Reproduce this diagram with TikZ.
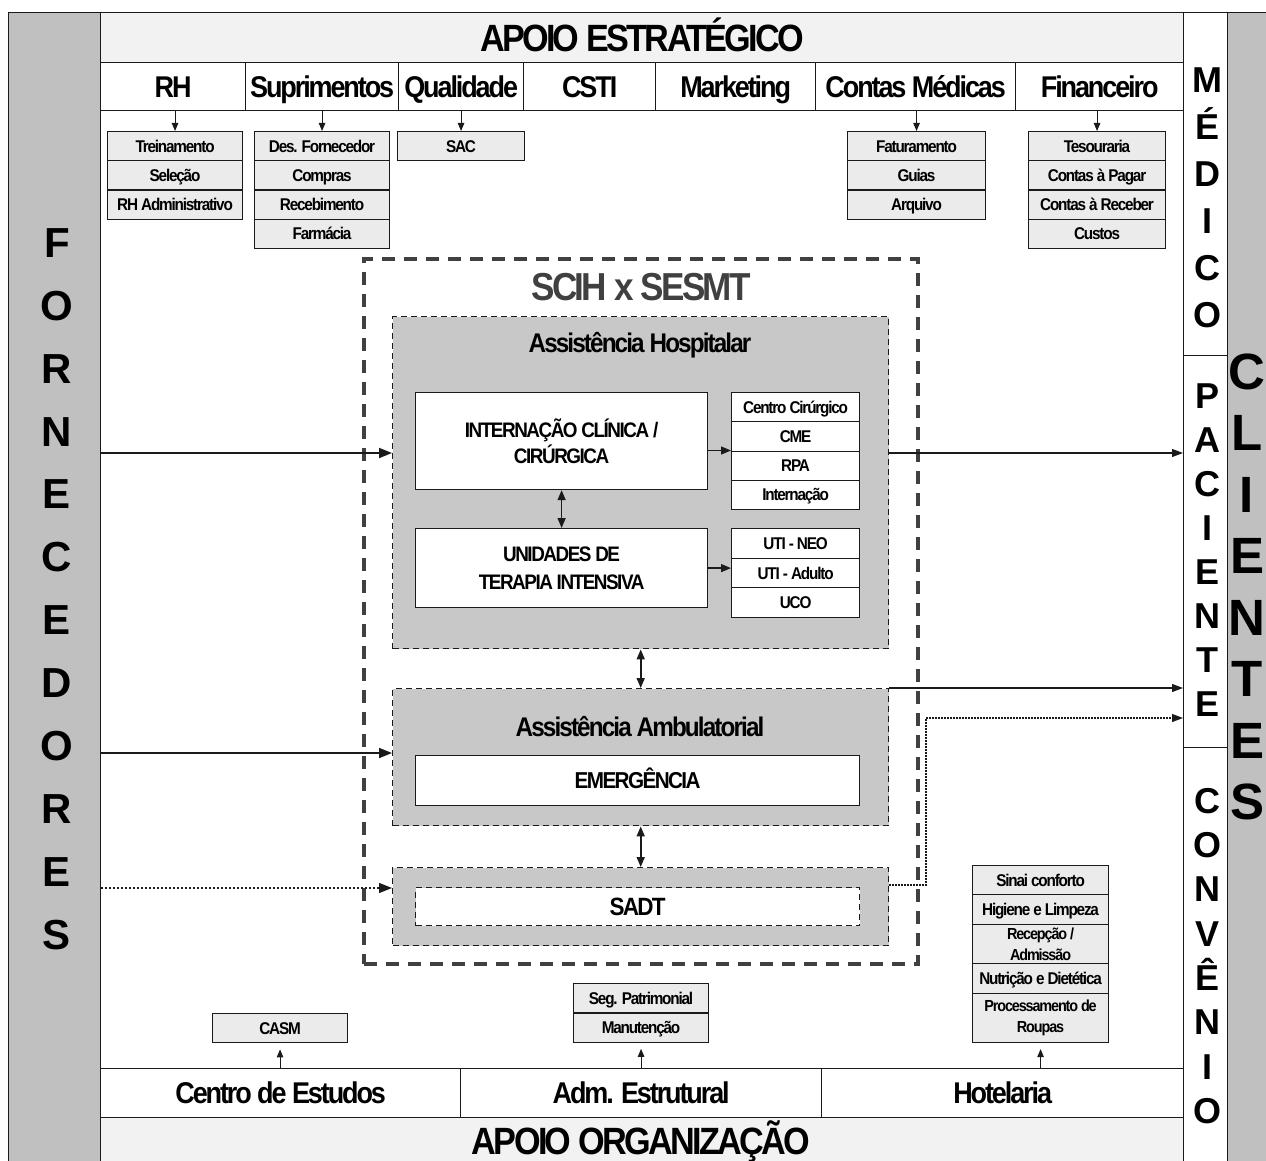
\documentclass[tikz,border=0pt]{standalone}
\usepackage{fontspec}
\setmainfont{Liberation Sans}
\newfontfamily\condf{Liberation Sans}[FakeStretch=0.9,LetterSpace=-7]
\newfontfamily\plainf{Liberation Sans}
\usetikzlibrary{arrows.meta}
\newcommand\fsz[1]{\fontsize{#1}{#1}\selectfont}
\definecolor{ink}{HTML}{1A1A1A}
\definecolor{bandgray}{HTML}{C0C0C0}
\definecolor{stripgray}{HTML}{F2F2F2}
\definecolor{unitgray}{HTML}{C8C8C8}
\definecolor{itemgray}{HTML}{EBEBEB}
\definecolor{scihgray}{HTML}{404040}
\begin{document}
\begin{tikzpicture}[x=1pt,y=-1pt,
  frame/.style={draw=ink,line width=1.3pt,inner sep=0pt,anchor=north west},
  cell/.style={frame,fill=white,text height=21.5pt,text depth=0pt,font=\condf\bfseries\fsz{30}},
  item/.style={draw=ink,line width=1.1pt,fill=itemgray,inner sep=0pt,anchor=north west,
    minimum height=29.25pt,text height=12pt,text depth=0pt,font=\condf\bfseries\fsz{17}},
  item2/.style={draw=ink,line width=1.1pt,fill=itemgray,inner sep=0pt,anchor=north west,
    align=center,font=\condf\bfseries\fontsize{16}{21}\selectfont},
  wbox/.style={draw=ink,line width=1.2pt,fill=white,inner sep=0pt,anchor=north west},
  witem/.style={wbox,minimum width=128pt,text height=12pt,text depth=0pt,font=\condf\bfseries\fsz{17}},
  unitbox/.style={draw=ink,line width=1.4pt,dash pattern=on 6pt off 4pt,fill=unitgray,inner sep=0pt,anchor=north west},
  scihbox/.style={draw=scihgray,line width=3.6pt,dash pattern=on 13pt off 9pt,inner sep=0pt,anchor=north west},
  sideword/.style={align=center,inner sep=0pt,text=black},
  small/.style={-{Triangle[length=8pt,width=6.5pt]},line width=0.9pt,draw=ink},
  mid/.style={-{Triangle[length=10pt,width=8pt]},line width=1.3pt,draw=ink},
  dbl/.style={{Triangle[length=10pt,width=8pt]}-{Triangle[length=10pt,width=8pt]},line width=1.6pt,draw=ink},
  flowin/.style={-{Triangle[length=13pt,width=10pt]},line width=1.8pt,draw=ink},
  flowout/.style={-{Triangle[length=11pt,width=8pt]},line width=1.1pt,draw=ink},
  dotin/.style={-{Triangle[length=13pt,width=10pt]},line width=1.3pt,dash pattern=on 2pt off 2pt,draw=ink},
  dotout/.style={-{Triangle[length=11pt,width=8pt]},line width=1.1pt,dash pattern=on 1.5pt off 1.5pt,draw=ink},
]
\useasboundingbox (0,0) rectangle (1266,1161);
\clip (0,0) rectangle (1266,1161);

% ---- outer bands: suppliers (left) and clients (right)
\node[frame,fill=bandgray,minimum width=92pt,minimum height=1170pt] (forn) at (8,12) {};
\node[sideword,font=\plainf\bfseries\fontsize{42}{62.9}\selectfont] (fornT) at (57,589)
  {F\\O\\R\\N\\E\\C\\E\\D\\O\\R\\E\\S};
\node[frame,fill=bandgray,minimum width=60pt,minimum height=1170pt] (cli) at (1227,12) {};
\node[sideword,font=\plainf\bfseries\fontsize{51}{61.5}\selectfont] (cliT) at (1247,587)
  {C\\L\\I\\E\\N\\T\\E\\S};

% ---- client columns
\node[frame,fill=white,minimum width=44pt,minimum height=343pt] (med) at (1183,12) {};
\node[frame,fill=white,minimum width=44pt,minimum height=392pt] (pac) at (1183,355) {};
\node[frame,fill=white,minimum width=44pt,minimum height=430pt] (conv) at (1183,747) {};
\node[sideword,font=\plainf\bfseries\fontsize{36}{47}\selectfont] (medT) at (1207,198)
  {M\\É\\D\\I\\C\\O};
\node[sideword,font=\plainf\bfseries\fontsize{36}{44}\selectfont] (pacT) at (1207,550)
  {P\\A\\C\\I\\E\\N\\T\\E};
\node[sideword,font=\plainf\bfseries\fontsize{36}{44.3}\selectfont] (convT) at (1207,956)
  {C\\O\\N\\V\\Ê\\N\\I\\O};

% ---- strategic support
\node[frame,fill=stripgray,minimum width=1083pt,minimum height=50pt,
  text height=27.2pt,text depth=0pt,font=\condf\bfseries\fsz{38}] (apoioE) at (100,12) {APOIO ESTRATÉGICO};
\node[cell,minimum width=145pt,minimum height=48pt] (rh)   at (100,62)  {RH};
\node[cell,minimum width=153pt,minimum height=48pt] (sup)  at (245,62)  {Suprimentos};
\node[cell,minimum width=125pt,minimum height=48pt] (qual) at (398,62)  {Qualidade};
\node[cell,minimum width=132pt,minimum height=48pt] (csti) at (523,62)  {CSTI};
\node[cell,minimum width=160pt,minimum height=48pt] (mkt)  at (655,62)  {Marketing};
\node[cell,minimum width=200pt,minimum height=48pt] (cm)   at (815,62)  {Contas Médicas};
\node[cell,minimum width=168pt,minimum height=48pt] (fin)  at (1015,62) {Financeiro};

\node[item,minimum width=135pt] (rh1) at (107,131)    {Treinamento};
\node[item,minimum width=135pt] (rh2) at (107,160.25) {Seleção};
\node[item,minimum width=135pt] (rh3) at (107,189.5)  {RH Administrativo};

\node[item,minimum width=135pt] (sup1) at (254,131)    {Des. Fornecedor};
\node[item,minimum width=135pt] (sup2) at (254,160.25) {Compras};
\node[item,minimum width=135pt] (sup3) at (254,189.5)  {Recebimento};
\node[item,minimum width=135pt] (sup4) at (254,218.75) {Farmácia};

\node[item,minimum width=127pt] (qual1) at (397,131) {SAC};

\node[item,minimum width=138pt] (cm1) at (847,131)    {Faturamento};
\node[item,minimum width=138pt] (cm2) at (847,160.25) {Guias};
\node[item,minimum width=138pt] (cm3) at (847,189.5)  {Arquivo};

\node[item,minimum width=137pt] (fin1) at (1028,131)    {Tesouraria};
\node[item,minimum width=137pt] (fin2) at (1028,160.25) {Contas à Pagar};
\node[item,minimum width=137pt] (fin3) at (1028,189.5)  {Contas à Receber};
\node[item,minimum width=137pt] (fin4) at (1028,218.75) {Custos};

\draw[small] (rh.south -| rh1.north) -- (rh1.north);
\draw[small] (sup.south -| sup1.north) -- (sup1.north);
\draw[small] (qual.south -| qual1.north) -- (qual1.north);
\draw[small] (cm.south -| cm1.north) -- (cm1.north);
\draw[small] (fin.south -| fin1.north) -- (fin1.north);

% ---- organizational support
\node[frame,fill=stripgray,minimum width=1083pt,minimum height=60pt] (apoioO) at (100,1117) {};
\node[font=\condf\bfseries\fsz{38}] (apoioOT) at (641,1142) {APOIO ORGANIZAÇÃO};
\node[cell,minimum width=360pt,minimum height=49pt] (ce)  at (100,1068) {Centro de Estudos};
\node[cell,minimum width=361pt,minimum height=49pt] (adm) at (460,1068) {Adm. Estrutural};
\node[cell,minimum width=362pt,minimum height=49pt] (hot) at (821,1068) {Hotelaria};

\node[item,minimum width=135pt] (casm) at (212,1013) {CASM};
\node[item,minimum width=135pt] (adm1) at (573,983)    {Seg. Patrimonial};
\node[item,minimum width=135pt] (adm2) at (573,1012.5) {Manutenção};

\node[item,minimum width=136pt] (hot1) at (972,865)   {Sinai conforto};
\node[item,minimum width=136pt] (hot2) at (972,894.3) {Higiene e Limpeza};
\node[item2,minimum width=136pt,minimum height=39.4pt] (hot3) at (972,923.6) {Recepção /\\Admissão};
\node[item,minimum width=136pt,minimum height=29.8pt] (hot4) at (972,963) {Nutrição e Dietética};
\node[item2,minimum width=136pt,minimum height=49.2pt] (hot5) at (972,992.8) {Processamento de\\Roupas};

\draw[small,shorten >=6pt] (ce.north -| casm.south) -- (casm.south);
\draw[small,shorten >=6pt] (adm.north -| adm2.south) -- (adm2.south);
\draw[small,shorten >=6pt] (hot.north -| hot5.south) -- (hot5.south);

% ---- SCIH x SESMT area
\node[scihbox,minimum width=554pt,minimum height=705pt] (scih) at (362,257) {};
\node[text=scihgray,font=\condf\bfseries\fsz{39}] (scihT) at (641,287) {SCIH x SESMT};

\node[unitbox,minimum width=496pt,minimum height=332pt] (hosp) at (392,316) {};
\node[font=\condf\bfseries\fsz{27}] (hospT) at (640,345) {Assistência Hospitalar};

\node[wbox,minimum width=292pt,minimum height=97pt,align=center,
  font=\condf\bfseries\fontsize{21}{26}\selectfont] (intern) at (415,392) {INTERNAÇÃO CLÍNICA /\\CIRÚRGICA};
\node[witem,minimum height=29.25pt] (cc1) at (731,392)    {Centro Cirúrgico};
\node[witem,minimum height=29.25pt] (cc2) at (731,421.25) {CME};
\node[witem,minimum height=29.25pt] (cc3) at (731,450.5)  {RPA};
\node[witem,minimum height=29.25pt] (cc4) at (731,479.75) {Internação};

\node[wbox,minimum width=292pt,minimum height=79pt,align=center,
  font=\condf\bfseries\fontsize{21}{28}\selectfont] (uti) at (415,528) {UNIDADES DE\\TERAPIA INTENSIVA};
\node[witem,minimum height=29.6pt] (ut1) at (731,528)   {UTI - NEO};
\node[witem,minimum height=29.6pt] (ut2) at (731,557.6) {UTI - Adulto};
\node[witem,minimum height=29.6pt] (ut3) at (731,587.2) {UCO};

\draw[mid] (intern.east |- cc3.north west) -- (cc3.north west);
\draw[mid] (uti.east) -- (uti.east -| ut2.west);
\draw[dbl] (intern.south) -- (uti.north);

\node[unitbox,minimum width=496pt,minimum height=137pt] (amb) at (392,688) {};
\node[font=\condf\bfseries\fsz{27}] (ambT) at (640,727) {Assistência Ambulatorial};
\node[wbox,minimum width=444pt,minimum height=50pt,text height=16.5pt,text depth=0pt,
  font=\condf\bfseries\fsz{23}] (emerg) at (415,755) {EMERGÊNCIA};

\node[unitbox,minimum width=496pt,minimum height=78pt] (sadtO) at (392,867) {};
\node[wbox,draw=ink,dash pattern=on 6pt off 4pt,line width=1.4pt,minimum width=444pt,minimum height=38pt,
  text height=18pt,text depth=0pt,font=\condf\bfseries\fsz{25}] (sadt) at (415,887) {SADT};

\draw[dbl] (hosp.south) -- (amb.north);
\draw[dbl] (amb.south) -- (sadtO.north);

% ---- flows from suppliers
\coordinate (yH) at (0,453);
\coordinate (yA) at (0,753);
\coordinate (yS) at (0,888);
\draw[flowin] (forn.east |- yH) -- (hosp.west |- yH);
\draw[flowin] (forn.east |- yA) -- (amb.west |- yA);
\draw[dotin] (forn.east |- yS) -- (sadtO.west |- yS);

% ---- flows to the patient
\draw[flowout] (hosp.east |- yH) -- (pac.west |- yH);
\draw[flowout] (amb.north east) -- (amb.north east -| pac.west);
\coordinate (dq1) at (926,885);
\coordinate (dq2) at (926,718);
\draw[dotout] (sadtO.east |- dq1) -- (dq1) -- (dq2) -- (dq2 -| pac.west);
\end{tikzpicture}
\end{document}
